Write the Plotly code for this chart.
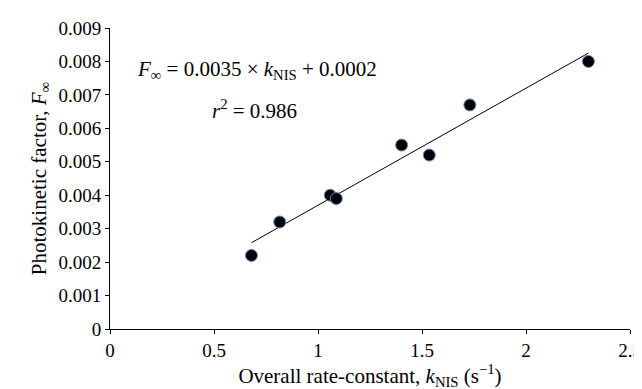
import numpy as np
import plotly.graph_objects as go

k_nis = [0.68, 0.816, 1.059, 1.088, 1.402, 1.535, 1.730, 2.300]
f_inf = [0.0022, 0.0032, 0.0040, 0.0039, 0.0055, 0.0052, 0.0067, 0.0080]

slope = 0.0035
intercept = 0.0002

x_ticks = [0, 0.5, 1, 1.5, 2, 2.5]
x_ticklabels = ["0", "0.5", "1", "1.5", "2", "2.5"]
y_ticks = [0, 0.001, 0.002, 0.003, 0.004, 0.005, 0.006, 0.007, 0.008, 0.009]
y_ticklabels = ["0", "0.001", "0.002", "0.003", "0.004", "0.005", "0.006", "0.007", "0.008", "0.009"]

font_family = "Liberation Serif"

line_x = np.array([min(k_nis), max(k_nis)])
line_y = slope * line_x + intercept

fig = go.Figure()
fig.add_trace(go.Scatter(
    x=line_x, y=line_y, mode="lines",
    line=dict(color="black", width=1), showlegend=False, hoverinfo="skip"))
fig.add_trace(go.Scatter(
    x=k_nis, y=f_inf, mode="markers",
    marker=dict(color="black", size=12, line=dict(color="#5b8cc4", width=1)),
    showlegend=False))

fig.add_annotation(
    x=0.12, y=0.00775, xref="x", yref="y", xanchor="left", yanchor="middle",
    text="<i>F</i><sub>∞</sub> = 0.0035 × <i>k</i><sub>NIS</sub> + 0.0002",
    showarrow=False, font=dict(family=font_family, size=21, color="black"))
fig.add_annotation(
    x=0.48, y=0.00655, xref="x", yref="y", xanchor="left", yanchor="middle",
    text="<i>r</i><sup>2</sup> = 0.986",
    showarrow=False, font=dict(family=font_family, size=21, color="black"))

axis_common = dict(
    showline=True, linecolor="black", linewidth=1, ticks="outside",
    ticklen=4, tickwidth=1, tickcolor="black", showgrid=False, zeroline=False,
    automargin=False,
    tickfont=dict(family=font_family, size=19, color="black"),
)

fig.update_xaxes(
    range=[0, 2.5], tickvals=x_ticks, ticktext=x_ticklabels,
    title=dict(text="Overall rate-constant, <i>k</i><sub>NIS</sub> (s<sup>−1</sup>)",
               font=dict(family=font_family, size=21, color="black"), standoff=0),
    **axis_common)
fig.update_yaxes(
    range=[0, 0.009], tickvals=y_ticks, ticktext=y_ticklabels,
    title=dict(text="Photokinetic factor, <i>F</i><sub>∞</sub>",
               font=dict(family=font_family, size=21, color="black"), standoff=6),
    **axis_common)

fig.update_layout(
    width=642, height=389,
    margin=dict(l=102, r=20, t=20, b=68),
    plot_bgcolor="white", paper_bgcolor="white",
    font=dict(family=font_family, color="black"),
)

fig.write_html("out.html")
